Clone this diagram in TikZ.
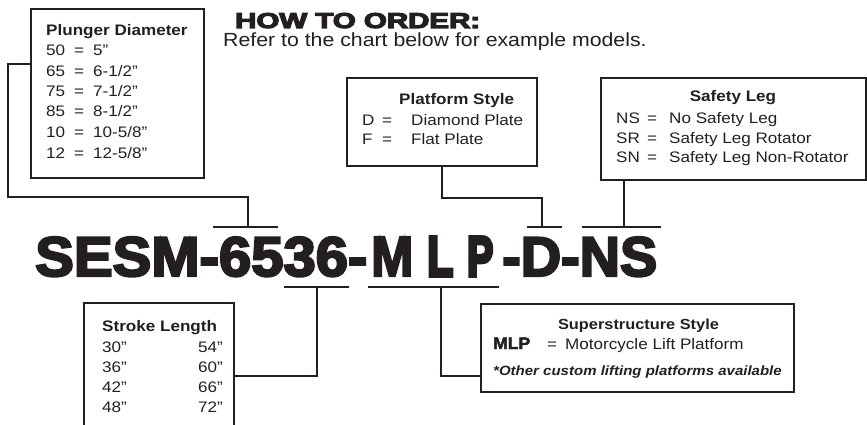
\documentclass[tikz,border=0pt]{standalone}
\usepackage{fontspec}
\setmainfont{Liberation Sans}[FakeStretch=1.12]
\newfontfamily\heavyfont{Liberation Sans Bold}[FakeBold=4]
\newfontfamily\heaviestfont{Liberation Sans Bold}[FakeBold=7]
\newfontfamily\headfont{Liberation Sans Bold}[FakeBold=5]
\newfontfamily\semiheavyfont{Liberation Sans Bold}[FakeBold=2.5]
\usetikzlibrary{calc}
\definecolor{ink}{HTML}{231F20}
\begin{document}
\begin{tikzpicture}[x=1pt,y=-1pt,
  box/.style={draw=ink, line width=1.8pt, inner sep=0pt, anchor=north west},
  conn/.style={draw=ink, line width=1.7pt},
  teebar/.style={draw=ink, line width=2.8pt},
  txt/.style={inner sep=0pt, anchor=base west, text=ink, font=\fontsize{15.25}{17}\selectfont},
  ttl/.style={txt, font=\fontsize{15.25}{17}\selectfont\bfseries},
  rtxt/.style={txt, anchor=base east},
  big/.style={inner sep=0pt, anchor=base west, text=ink}
]
\useasboundingbox (0,0) rectangle (867,425);
\clip (0,0) rectangle (867,425);

% header
\node[big] (how) at (235,28) {\resizebox{245pt}{15pt}{\headfont HOW TO ORDER:}};
\node[txt, font=\fontsize{19}{22}\selectfont] (refer) at (223,47) {Refer to the chart below for example models.};

% plunger box
\node[box, minimum width=173pt, minimum height=169pt] (pbox) at (30,8) {};
\node[ttl] (pt) at (46,36) {Plunger Diameter};
\foreach \n/\v/\y in {50/{5”}/56, 65/{6-1/2”}/77, 75/{7-1/2”}/97, 85/{8-1/2”}/117, 10/{10-5/8”}/138, 12/{12-5/8”}/158}{
  \node[txt] (pn\n) at (46,\y) {\n};
  \node[txt] (pe\n) at (74,\y) {=};
  \node[txt] (pv\n) at (93,\y) {\v};
}

% platform box
\node[box, minimum width=190pt, minimum height=88pt] (fbox) at (346,77) {};
\node[ttl] (ft) at (399,105) {Platform Style};
\node[txt] (fd) at (362,125) {D};
\node[txt] (fde) at (382,125) {=};
\node[txt] (fdv) at (411,125) {Diamond Plate};
\node[txt] (ff) at (362,145) {F};
\node[txt] (ffe) at (382,145) {=};
\node[txt] (ffv) at (411,145) {Flat Plate};

% safety box
\node[box, minimum width=265pt, minimum height=102pt] (sfbox) at (600,77) {};
\node[ttl, anchor=base] (st) at (733,102) {Safety Leg};
\foreach \c/\v/\y in {NS/{No Safety Leg}/124, SR/{Safety Leg Rotator}/143, SN/{Safety Leg Non-Rotator}/162}{
  \node[txt] (sc\c) at (616,\y) {\c};
  \node[txt] (se\c) at (647,\y) {=};
  \node[txt] (sv\c) at (669,\y) {\v};
}

% stroke box
\node[box, minimum width=150pt, minimum height=140pt] (sbox) at (83,302) {};
\node[ttl] (slt) at (102,331) {Stroke Length};
\foreach \a/\b/\y in {30/54/352, 36/60/372, 42/66/392, 48/72/412}{
  \node[txt] (sl\a) at (102,\y) {\a”};
  \node[rtxt] (sr\b) at (223,\y) {\b”};
}

% superstructure box
\node[box, minimum width=313pt, minimum height=88pt] (mbox) at (480,303) {};
\node[ttl, anchor=base, font=\fontsize{14.6}{17}\selectfont\bfseries] (mt) at (638.5,329) {Superstructure Style};
\node[big] (mm) at (493,349) {\resizebox{37pt}{11.5pt}{\semiheavyfont MLP}};
\node[txt] (me) at (547,349) {=};
\node[txt] (mv) at (565,349) {Motorcycle Lift Platform};
\node[txt, font=\fontsize{13.4}{15}\selectfont\bfseries\itshape] (mo) at (493,375) {*Other custom lifting platforms available};

% big model code
\node[big] (c1) at (35,276) {\resizebox{332pt}{39pt}{\heavyfont SESM-6536-}};
\node[big] (c2) at (371,276) {\resizebox{42pt}{39pt}{\heavyfont M}};
\node[big] (c3) at (427,276) {\resizebox{26pt}{39pt}{\heaviestfont L}};
\node[big] (c4) at (467,276) {\resizebox{26pt}{39pt}{\heaviestfont P}};
\node[big] (c5) at (502,276) {\resizebox{155pt}{39pt}{\heavyfont -D-NS}};

% tee points
\coordinate (ptee) at (248,227);
\coordinate (stee) at (317,287);
\coordinate (mtee) at (441,287);
\coordinate (dtee) at (542,227);
\coordinate (ntee) at (624,227);
\coordinate (pbend) at (8,197);
\coordinate (dbend) at (442,198);

% tee bars
\draw[teebar] ($(ptee)+(-35,0)$) -- ($(ptee)+(30,0)$);
\draw[teebar] ($(stee)+(-33,0)$) -- ($(stee)+(32,0)$);
\draw[teebar] ($(mtee)+(-73,0)$) -- ($(mtee)+(58,0)$);
\draw[teebar] ($(dtee)+(-15,0)$) -- ($(dtee)+(20,0)$);
\draw[teebar] ($(ntee)+(-42,0)$) -- ($(ntee)+(37,0)$);

% connectors
\draw[conn] ($(pbox.north west)+(0,56)$) -| (pbend) -| (ptee);
\draw[conn] (stee) |- ($(sbox.north east)+(0,74)$);
\draw[conn] (mtee) |- ($(mbox.north west)+(0,73)$);
\draw[conn] (dtee) |- (dbend) -- (dbend |- fbox.south);
\draw[conn] (ntee) -- (ntee |- sfbox.south);
\end{tikzpicture}
\end{document}
